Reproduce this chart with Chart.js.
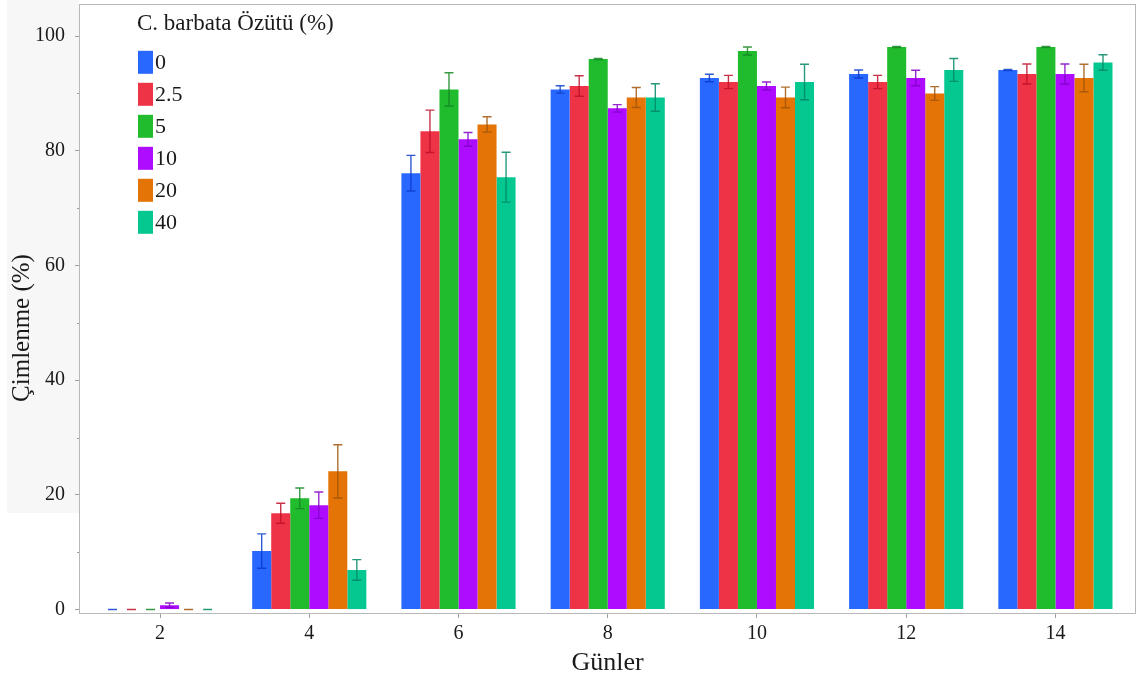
<!DOCTYPE html>
<html>
<head>
<meta charset="utf-8">
<script src="https://cdn.jsdelivr.net/npm/chart.js@4.4.1/dist/chart.umd.min.js"></script>
<style>
    html, body { margin: 0; padding: 0; background: #fff; }
    #wrap { width: 1138px; height: 681px; }
</style>
</head>
<body>
<div id="wrap"><canvas id="myChart" width="1138" height="681"></canvas></div>
<script>

// Chart data
// --------------------------------------------
const days = [2, 4, 6, 8, 10, 12, 14]
const groups = ['0', '2.5', '5', '10', '20', '40']

// mean germination (%) for each extract level, one value per day
const g0   = [0, 10.2, 76.1, 90.7, 92.7, 93.4, 94.1]
const g2_5 = [0, 16.8, 83.4, 91.3, 92.0, 92.0, 93.4]
const g5   = [0, 19.4, 90.7, 96.0, 97.4, 98.1, 98.1]
const g10  = [0.75, 18.2, 82.0, 87.4, 91.3, 92.7, 93.4]
const g20  = [0, 24.1, 84.6, 89.3, 89.3, 90.0, 92.7]
const g40  = [0, 6.9, 75.4, 89.3, 92.0, 94.1, 95.4]

// error (+/-) for each bar
const e0   = [0, 3.0, 3.1, 0.65, 0.65, 0.7, 0.1]
const e2_5 = [0, 1.75, 3.7, 1.8, 1.15, 1.15, 1.75]
const e5   = [0, 1.8, 2.9, 0.1, 0.7, 0.1, 0.1]
const e10  = [0.4, 2.3, 1.2, 0.65, 0.7, 1.35, 1.75]
const e20  = [0, 4.65, 1.35, 1.75, 1.8, 1.2, 2.4]
const e40  = [0, 1.8, 4.35, 2.4, 3.1, 2.0, 1.35]

const yTicks = [0, 20, 40, 60, 80, 100]
const yMinor = [10, 30, 50, 70, 90]

const means = [g0, g2_5, g5, g10, g20, g40]
const errors = [e0, e2_5, e5, e10, e20, e40]
const colors = ['#2968ff', '#ef3347', '#21bb2e', '#ae0cfe', '#e37405', '#05c891']
const errColors = ['rgba(10,60,205,0.85)', 'rgba(190,15,40,0.85)', 'rgba(20,135,35,0.85)',
                   'rgba(130,0,200,0.85)', 'rgba(160,85,10,0.85)', 'rgba(0,135,100,0.85)']

const serif = 'Liberation Serif'


// Builds the datasets
// --------------------------------------------
function buildDatasets() {
    return groups.map((g, i) => ({
        label: g,
        data: days.map((d, j) => ({ x: d, y: means[i][j] })),
        errors: errors[i],
        errorColor: errColors[i],
        backgroundColor: colors[i],
        borderWidth: 0,
        barPercentage: 1,
        categoryPercentage: 0.765
    }))
}


// Background panel, frame, minor ticks, legend
// --------------------------------------------
const decor = {
    id: 'decor',
    beforeDraw(chart) {
        const ctx = chart.ctx
        ctx.save()
        ctx.fillStyle = '#ffffff'
        ctx.fillRect(0, 0, chart.width, chart.height)
        ctx.fillStyle = '#f7f7f7'
        ctx.fillRect(7, 0, 72, 513)
        ctx.fillStyle = '#ffffff'
        const a = chart.chartArea
        ctx.fillRect(a.left, a.top, a.right - a.left, a.bottom - a.top)
        ctx.restore()
    },
    afterDraw(chart) {
        const ctx = chart.ctx
        const a = chart.chartArea
        const y = chart.scales.y
        ctx.save()
        // frame
        ctx.strokeStyle = '#b8b8b8'
        ctx.lineWidth = 1
        ctx.strokeRect(a.left + 0.5, a.top + 0.5, a.right - a.left - 1, a.bottom - a.top)
        // minor ticks
        ctx.strokeStyle = '#a0a0a0'
        for (const v of yMinor) {
            const py = Math.round(y.getPixelForValue(v)) + 0.5
            ctx.beginPath()
            ctx.moveTo(a.left - 2, py)
            ctx.lineTo(a.left, py)
            ctx.stroke()
        }
        // y axis title
        ctx.fillStyle = '#1a1a1a'
        ctx.font = `25px "${serif}"`
        ctx.textAlign = 'center'
        ctx.textBaseline = 'middle'
        ctx.translate(22, 328)
        ctx.rotate(-Math.PI / 2)
        ctx.fillText('Çimlenme (%)', 0, 0)
        ctx.restore()

        // legend
        ctx.save()
        ctx.fillStyle = '#1a1a1a'
        ctx.font = `23px "${serif}"`
        ctx.textAlign = 'left'
        ctx.textBaseline = 'alphabetic'
        ctx.fillText('C. barbata Özütü (%)', 137, 30)
        chart.data.datasets.forEach((ds, i) => {
            const cy = 62.3 + i * 32
            ctx.fillStyle = ds.backgroundColor
            ctx.fillRect(138, cy - 11.5, 15, 23)
            ctx.fillStyle = '#1a1a1a'
            ctx.font = `22px "${serif}"`
            ctx.fillText(ds.label, 155, cy + 6.5)
        })
        ctx.restore()
    }
}


// Error bars
// --------------------------------------------
const errorBars = {
    id: 'errorBars',
    afterDatasetsDraw(chart) {
        const ctx = chart.ctx
        const y = chart.scales.y
        chart.data.datasets.forEach((ds, i) => {
            const meta = chart.getDatasetMeta(i)
            ctx.save()
            ctx.strokeStyle = ds.errorColor
            ctx.lineWidth = 1.4
            meta.data.forEach((bar, j) => {
                const v = ds.data[j].y
                const e = ds.errors[j]
                const top = y.getPixelForValue(v + e)
                const bot = y.getPixelForValue(Math.max(v - e, 0))
                const x = bar.x
                ctx.beginPath()
                ctx.moveTo(x, top)
                ctx.lineTo(x, bot)
                ctx.moveTo(x - 4.5, top)
                ctx.lineTo(x + 4.5, top)
                ctx.moveTo(x - 4.5, bot)
                ctx.lineTo(x + 4.5, bot)
                ctx.stroke()
            })
            ctx.restore()
        })
    }
}


// Plots the chart
// --------------------------------------------
const ctx = document.getElementById('myChart').getContext('2d')

const myChart = new Chart(ctx, {
    type: 'bar',
    data: { datasets: buildDatasets() },
    options: {
        responsive: false,
        animation: false,
        devicePixelRatio: 1,
        layout: { padding: { top: 4, right: 2, left: 0, bottom: 0 } },
        plugins: {
            legend: { display: false },
            tooltip: { enabled: false }
        },
        scales: {
            x: {
                type: 'linear',
                offset: false,
                min: 0.914,
                max: 15.08,
                afterBuildTicks: s => { s.ticks = days.map(v => ({ value: v })) },
                afterFit: s => {
                    s.height = 68
                    s.paddingLeft = 0
                    s.paddingRight = 0
                },
                grid: { offset: false, drawOnChartArea: false, drawTicks: true, tickLength: 5, color: '#a0a0a0' },
                border: { display: false },
                ticks: {
                    font: { family: serif, size: 20 },
                    color: '#1a1a1a',
                    padding: 4,
                    maxRotation: 0,
                    autoSkip: false
                },
                title: {
                    display: true,
                    text: 'Günler',
                    font: { family: serif, size: 26 },
                    color: '#1a1a1a',
                    padding: { top: 0, bottom: 2 }
                }
            },
            y: {
                min: -0.6,
                max: 105.6,
                afterBuildTicks: s => { s.ticks = yTicks.map(v => ({ value: v })) },
                afterFit: s => {
                    s.width = 79
                    s.paddingTop = 0
                    s.paddingBottom = 0
                },
                grid: { drawOnChartArea: false, drawTicks: true, tickLength: 4, color: '#a0a0a0' },
                border: { display: false },
                ticks: {
                    font: { family: serif, size: 20 },
                    color: '#1a1a1a',
                    padding: 10
                }
            }
        }
    },
    plugins: [decor, errorBars]
})

</script>
</body>
</html>
